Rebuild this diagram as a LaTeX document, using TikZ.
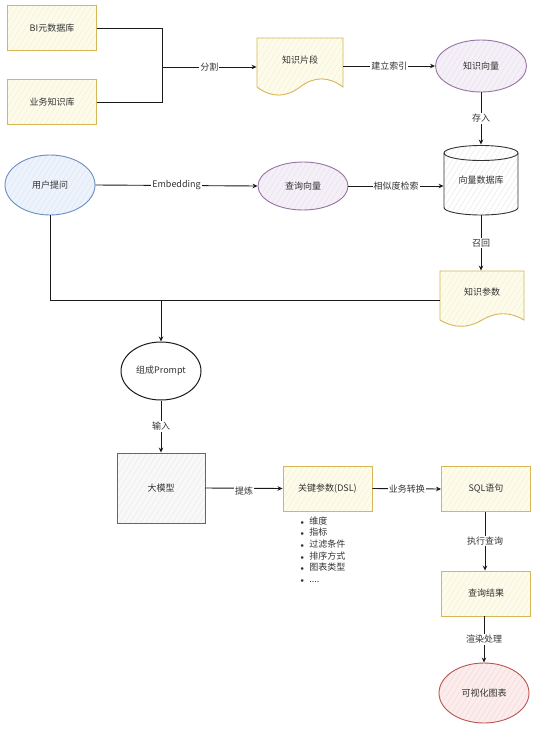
\documentclass[tikz,border=0pt]{standalone}
\usepackage{fontspec}
\setmainfont{Noto Sans CJK SC}
\usetikzlibrary{shapes.geometric,arrows.meta,patterns.meta}
\definecolor{ystroke}{HTML}{D6B656}
\definecolor{yfill}{HTML}{FDFBEA}
\definecolor{pstroke}{HTML}{9673A6}
\definecolor{pfill}{HTML}{F5F0F7}
\definecolor{bstroke}{HTML}{6C8EBF}
\definecolor{bfill}{HTML}{EDF3FC}
\definecolor{rstroke}{HTML}{B85450}
\definecolor{rfill}{HTML}{FCEDEC}
\definecolor{gstroke}{HTML}{666666}
\definecolor{gfill}{HTML}{F8F8F8}
\definecolor{txt}{HTML}{333333}
\definecolor{edge}{HTML}{1A1A1A}
\tikzset{
  hfill/.style 2 args={preaction={fill=#1}, preaction={pattern={Lines[angle=58,distance=4.5pt,line width=0.45pt]},pattern color=#2}},
  base/.style={font=\fontsize{9}{11}\selectfont, text=txt, inner sep=0pt, line width=0.9pt},
  ybox/.style={base, rectangle, draw=ystroke, hfill={yfill}{ystroke!22}, minimum width=89pt, minimum height=45pt},
  gbox/.style={base, rectangle, draw=gstroke, hfill={gfill}{gstroke!14}, minimum width=88pt, minimum height=70pt},
  pell/.style={base, ellipse, draw=pstroke, hfill={pfill}{pstroke!22}},
  bell/.style={base, ellipse, draw=bstroke, hfill={bfill}{bstroke!22}},
  rell/.style={base, ellipse, draw=rstroke, hfill={rfill}{rstroke!22}},
  kell/.style={base, ellipse, draw=edge, fill=white, line width=1pt},
  plain/.style={base, rectangle},
  docsty/.style={draw=ystroke, hfill={yfill}{ystroke!22}, line width=0.9pt},
  cylsty/.style={draw=txt, hfill={white}{black!9}, line width=0.9pt},
  arr/.style={draw=edge, line width=0.9pt, -{Stealth[length=5pt,width=4.5pt]}},
  ln/.style={draw=edge, line width=0.9pt},
  lbl/.style={font=\fontsize{9}{11}\selectfont, text=txt, fill=white, inner sep=1pt},
}
\begin{document}
\begin{tikzpicture}[x=1pt,y=-1pt]
\useasboundingbox[fill=white] (0,0) rectangle (548,731);

% document shapes (drawn first, text nodes on top)
\path[docsty] (257,38) -- (343,38) -- (343,87)
  .. controls (328.7,76.2) and (314.3,76.2) .. (300,87)
  .. controls (285.7,97.8) and (271.3,97.8) .. (257,87) -- cycle;
\path[docsty] (440,271) -- (524,271) -- (524,320)
  .. controls (510,311.6) and (496,311.6) .. (482,320)
  .. controls (468,328.4) and (454,328.4) .. (440,320) -- cycle;
% cylinder
\path[cylsty] (444,153) -- (444,207.5)
  arc[start angle=180,end angle=360,x radius=37pt,y radius=7.5pt]
  -- (518,153)
  arc[start angle=0,end angle=180,x radius=37pt,y radius=7.5pt] -- cycle;
\draw[draw=txt, line width=0.9pt] (444,153)
  arc[start angle=180,end angle=360,x radius=37pt,y radius=7.5pt];

% nodes
\node[ybox] (bi) at (52,28) {BI元数据库};
\node[ybox] (yw) at (52,102) {业务知识库};
\node[plain, minimum width=86pt, minimum height=44pt] (kp) at (300,60) {知识片段};
\node[pell, minimum width=91pt, minimum height=52pt] (kv) at (481,66) {知识向量};
\node[plain, minimum width=74pt, minimum height=70pt] (db) at (481,180) {\raisebox{-4pt}{向量数据库}};
\node[bell, minimum width=90pt, minimum height=60pt] (uq) at (50,185) {用户提问};
\node[pell, minimum width=90pt, minimum height=48pt] (qv) at (303,186) {查询向量};
\node[plain, minimum width=84pt, minimum height=42pt] (zs) at (482,292) {知识参数};
\node[kell, minimum width=80pt, minimum height=58pt] (pr) at (161,371) {组成Prompt};
\node[gbox] (llm) at (161,488) {大模型};
\node[ybox] (dsl) at (327.5,488.5) {关键参数(DSL)};
\node[ybox] (sql) at (486,489) {SQL语句};
\node[ybox] (res) at (486,593.5) {查询结果};
\node[rell, minimum width=90pt, minimum height=60pt] (vis) at (484,693) {可视化图表};

\node[base, anchor=north west, align=left, font=\fontsize{9}{11.7}\selectfont] (list) at (300,516)
 {$\scriptstyle\bullet$\hspace{5pt}维度\\
  $\scriptstyle\bullet$\hspace{5pt}指标\\
  $\scriptstyle\bullet$\hspace{5pt}过滤条件\\
  $\scriptstyle\bullet$\hspace{5pt}排序方式\\
  $\scriptstyle\bullet$\hspace{5pt}图表类型\\
  $\scriptstyle\bullet$\hspace{5pt}....};

% junctions
\coordinate (j1) at (162,67);
\coordinate (j2) at (161,300);

% connectors
\draw[ln] (bi.east) -| (j1);
\draw[ln] (yw.east) -| (j1);
\draw[arr] (j1) -- node[lbl]{分割} (j1 -| kp.west);
\draw[arr] (kv.west -| kp.east) -- node[lbl]{建立索引} (kv.west);
\draw[arr] (kv.south) -- node[lbl]{存入} (db.north);
\draw[arr] (uq.east) -- node[lbl]{Embedding} (qv.west);
\draw[arr] (qv.east) -- node[lbl]{相似度检索} (qv.east -| db.west);
\draw[arr] (db.south) -- node[lbl]{召回} (db.south |- zs.north);
\draw[ln] (uq.south) |- (j2);
\draw[ln] (zs.west |- j2) -- (j2);
\draw[arr] (j2) -- (pr.north);
\draw[arr] (pr.south) -- node[lbl]{输入} (llm.north);
\draw[arr] (llm.east) -- node[lbl, yshift=-2.5pt]{提炼} (dsl.west);
\draw[arr] (dsl.east) -- node[lbl]{业务转换} (sql.west);
\draw[arr] (sql.south -| res.south) ++(-1,0) coordinate (s1) -- node[lbl]{执行查询} (s1 |- res.north);
\draw[arr] (res.south) ++(-2,0) coordinate (s2) -- node[lbl]{渲染处理} (s2 |- vis.north);
\end{tikzpicture}
\end{document}
